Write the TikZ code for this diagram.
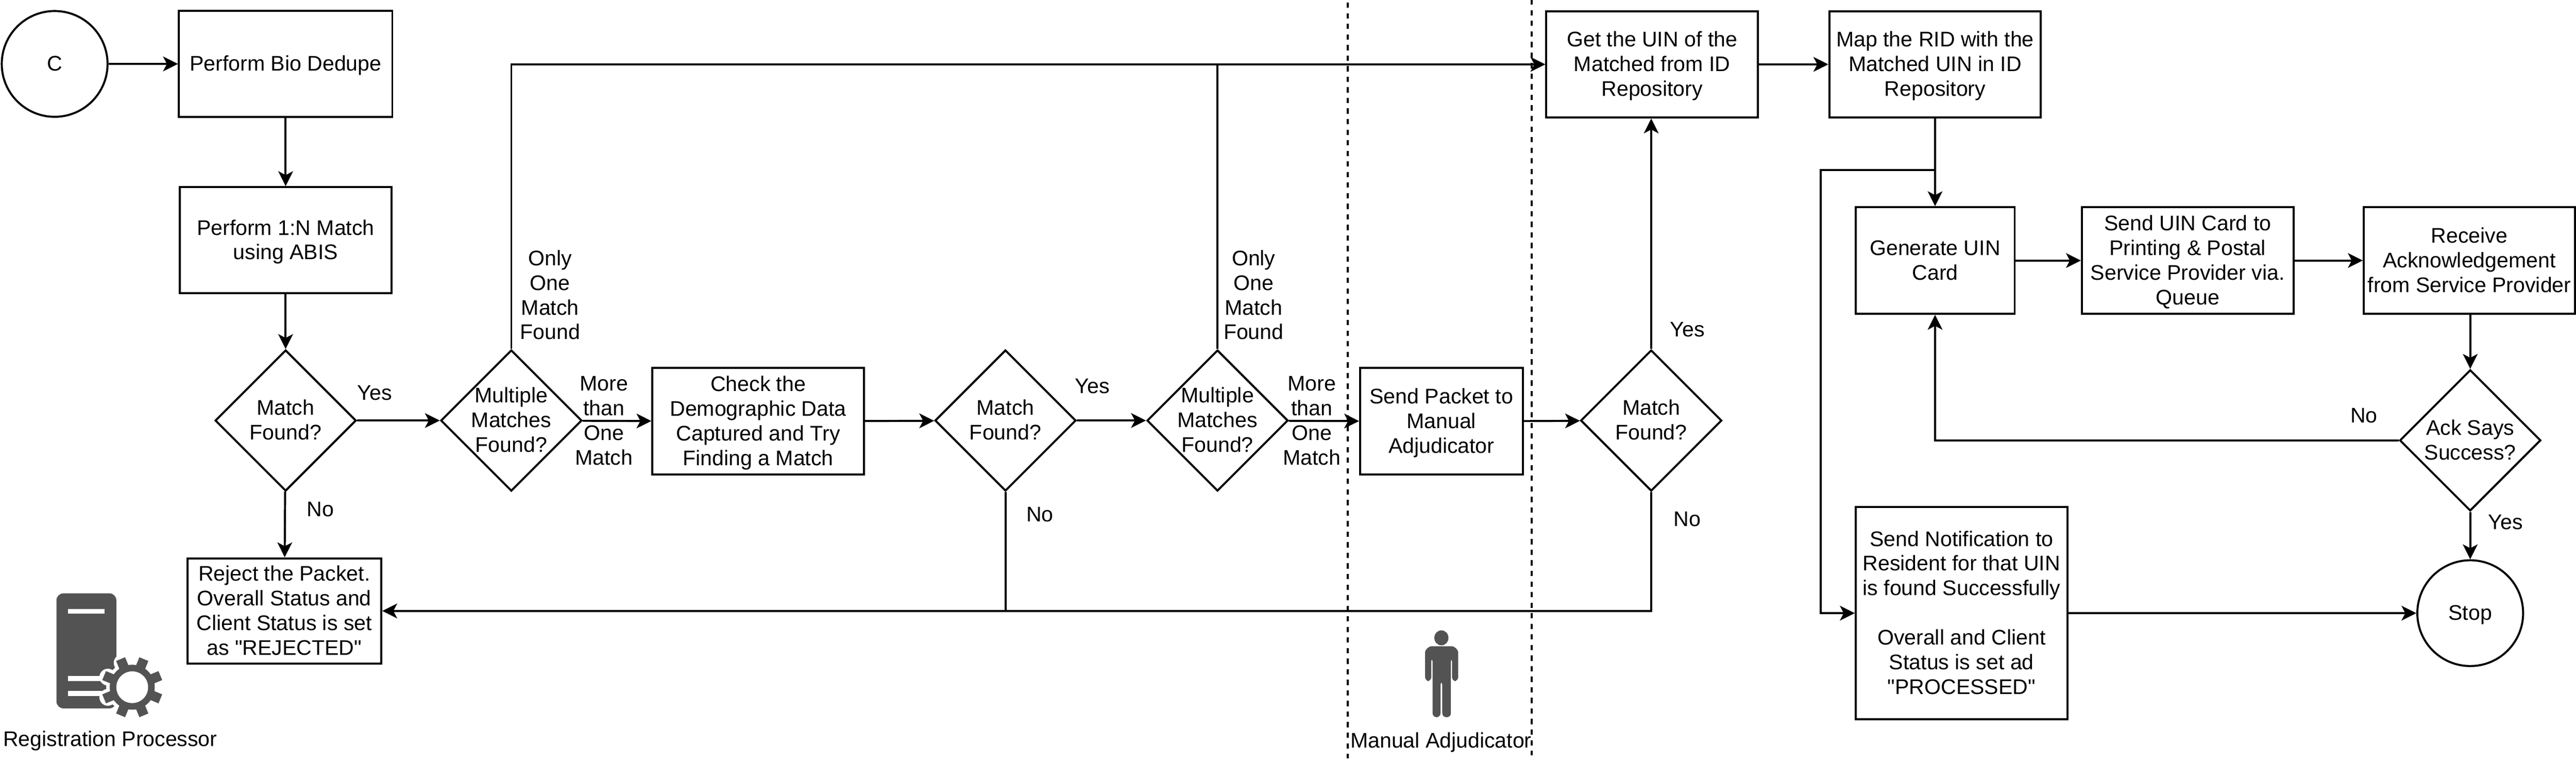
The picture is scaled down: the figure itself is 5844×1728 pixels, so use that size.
\documentclass[tikz,border=0pt]{standalone}
\usepackage{fontspec}
\newfontfamily\diagfont{Liberation Sans}
\usetikzlibrary{arrows.meta,shapes.geometric}
\definecolor{icongray}{HTML}{535353}
\newcommand{\dtext}[1]{\raisebox{-22pt}{\smash{\makebox[0pt]{\begin{tabular}{@{}c@{}}#1\end{tabular}}}}}
\tikzset{
  every node/.style={font=\diagfont\fontsize{48}{56}\selectfont},
  boxn/.style={draw,line width=4.6pt,rectangle,inner sep=0pt,minimum width=#1},
  boxn/.default=480pt,
  dec/.style={draw,line width=4.6pt,diamond,inner sep=0pt,minimum width=320pt,minimum height=320pt},
  circ/.style={draw,line width=4.6pt,circle,inner sep=0pt,minimum size=240pt},
  lbl/.style={align=center,inner sep=0pt},
  flow/.style={line width=4.6pt,-{Stealth[length=34pt,width=34pt,inset=9pt,line width=0pt]}},
  plain/.style={line width=4.6pt},
  sep/.style={line width=4.6pt,dash pattern=on 12pt off 12pt},
}
\begin{document}
\begin{tikzpicture}[x=1pt,y=-1pt]
\useasboundingbox (0,0) rectangle (5844,1728);
% separators
\draw[sep] (3058,-18) -- (3058,1720);
\draw[sep] (3475,-1) -- (3475,1714);
% nodes
\node[circ] (c) at (124,145) {\dtext{C}};
\node[boxn=484pt,minimum height=240pt] (bio) at (648,145) {\dtext{Perform Bio Dedupe}};
\node[boxn=480pt,minimum height=241pt] (abis) at (648,545) {\dtext{Perform 1:N Match\\using ABIS}};
\node[dec] (d1) at (648,954) {\dtext{Match\\Found?}};
\node[dec] (m1) at (1160,954) {\dtext{Multiple\\Matches\\Found?}};
\node[boxn,minimum height=242pt] (chk) at (1720,956) {\dtext{Check the\\Demographic Data\\Captured and Try\\Finding a Match}};
\node[dec] (d2) at (2281,954) {\dtext{Match\\Found?}};
\node[dec] (m2) at (2762,954) {\dtext{Multiple\\Matches\\Found?}};
\node[boxn=369pt,minimum height=242pt] (adj) at (3270,956) {\dtext{Send Packet to\\Manual\\Adjudicator}};
\node[dec] (d3) at (3746,954) {\dtext{Match\\Found?}};
\node[boxn,minimum height=241pt] (get) at (3748,146) {\dtext{Get the UIN of the\\Matched from ID\\Repository}};
\node[boxn,minimum height=241pt] (map) at (4390,146) {\dtext{Map the RID with the\\Matched UIN in ID\\Repository}};
\node[boxn=361pt,minimum height=242pt] (gen) at (4390,591) {\dtext{Generate UIN\\Card}};
\node[boxn,minimum height=242pt] (send) at (4963,591) {\dtext{Send UIN Card to\\Printing \& Postal\\Service Provider via.\\Queue}};
\node[boxn=479pt,minimum height=242pt] (ack) at (5602,591) {\dtext{Receive\\Acknowledgement\\from Service Provider}};
\node[dec] (dack) at (5604,999) {\dtext{Ack Says\\Success?}};
\node[circ] (stop) at (5604,1391) {\dtext{Stop}};
\node[boxn,minimum height=481pt] (note) at (4450,1391) {\dtext{Send Notification to\\Resident for that UIN\\is found Successfully\\~\\Overall and Client\\Status is set ad\\"PROCESSED"}};
\node[boxn=440pt,minimum height=239pt] (rej) at (645,1386) {\dtext{Reject the Packet.\\Overall Status and\\Client Status is set\\as "REJECTED"}};
% connectors
\coordinate (bj) at (4390,386);
\coordinate (bx) at (4130,386);
\draw[flow] (c) -- (bio);
\draw[flow] (bio) -- (abis);
\draw[flow] (abis) -- (d1);
\draw[flow] (d1) -- (m1);
\draw[flow] (d1) -- (rej);
\draw[flow] (m1.north) |- (get.west);
\draw[flow] (m1) -- (chk);
\draw[flow] (chk) -- (d2);
\draw[flow] (d2) -- (m2);
\draw[plain] (d2.south) -- (d2.south |- rej.east);
\draw[plain] (m2.north) -- (m2.north |- get.west);
\draw[flow] (m2) -- (adj);
\draw[flow] (adj) -- (d3);
\draw[flow] (d3.north) -- (d3.north |- get.south);
\draw[flow] (d3.south) |- (rej.east);
\draw[flow] (get) -- (map);
\draw[flow] (map) -- (gen);
\draw[flow] (bj) -- (bx) |- (note.west);
\draw[flow] (gen) -- (send);
\draw[flow] (send) -- (ack);
\draw[flow] (ack.south -| dack.north) -- (dack.north);
\draw[flow] (dack.west) -| (gen.south);
\draw[flow] (dack) -- (stop);
\draw[flow] (note.east) -- (stop.west);
% labels
\node[lbl] (l1) at (850,891) {Yes};
\node[lbl] (l2) at (727,1155) {No};
\node[lbl] (l3) at (1248,669) {Only\\One\\Match\\Found};
\node[lbl] (l4) at (1370,954) {More\\than\\One\\Match};
\node[lbl] (l5) at (2478,876) {Yes};
\node[lbl] (l6) at (2359,1167) {No};
\node[lbl] (l7) at (2844,669) {Only\\One\\Match\\Found};
\node[lbl] (l8) at (2976,954) {More\\than\\One\\Match};
\node[lbl] (l9) at (3828,748) {Yes};
\node[lbl] (l10) at (3828,1178) {No};
\node[lbl] (l11) at (5363,943) {No};
\node[lbl] (l12) at (5684,1185) {Yes};
\node[lbl] (rp) at (250,1681) {Registration Processor};
\node[lbl] (ma) at (3269,1684) {Manual Adjudicator};
% server icon
\fill[icongray,rounded corners=16pt] (128,1346) rectangle (264,1607);
\fill[white] (154,1381) rectangle (237,1392);
\fill[white] (154,1533) rectangle (240,1545);
\fill[white] (154,1567) rectangle (240,1579);
% gear
\begin{scope}[shift={(300,1559)}]
  \fill[white] (0,0) circle (59);
  \foreach \a in {22.5,67.5,...,337.5}
    \draw[white,line width=38pt,line cap=round] (\a:40) -- (\a:60);
  \fill[icongray] (0,0) circle (51);
  \foreach \a in {22.5,67.5,...,337.5}
    \draw[icongray,line width=22pt] (\a:40) -- (\a:69);
  \fill[white] (0,0) circle (36);
\end{scope}
% person icon
\fill[icongray] (3270,1447) ellipse (16 and 17);
\fill[icongray,rounded corners=9pt]
  (3233,1545) -- (3233,1488) .. controls (3233,1474) and (3242,1466) .. (3256,1466)
  -- (3285,1466) .. controls (3299,1466) and (3308,1474) .. (3308,1488)
  -- (3308,1545) -- (3294,1545) -- (3294,1492) -- (3291.5,1492) -- (3291.5,1627)
  -- (3272,1627) -- (3272,1545) -- (3268,1545) -- (3268,1627) -- (3250,1627)
  -- (3250,1492) -- (3247,1492) -- (3247,1545) -- cycle;
\end{tikzpicture}
\end{document}
